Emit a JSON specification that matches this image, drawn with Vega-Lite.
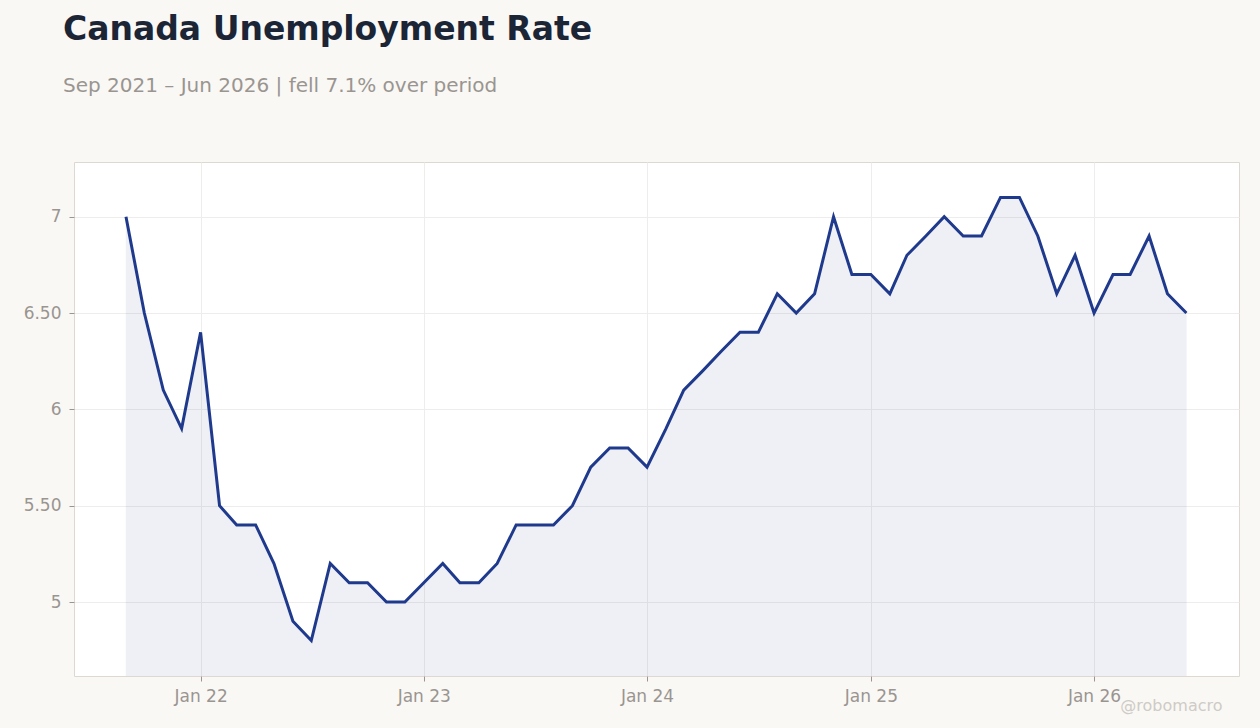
{
  "$schema": "https://vega.github.io/schema/vega-lite/v6.json",
  "description": "Canada unemployment rate, monthly, Sep 2021 to Jun 2026.",
  "width": 1165,
  "height": 514,
  "autosize": "none",
  "padding": {"left": 74, "top": 162, "right": 21, "bottom": 52},
  "background": "#f9f8f5",
  "title": {
    "text": "Canada Unemployment Rate",
    "subtitle": "Sep 2021 – Jun 2026 | fell 7.1% over period",
    "anchor": "start",
    "frame": "group",
    "dx": -11,
    "offset": 66,
    "font": "DejaVu Sans",
    "fontSize": 33,
    "fontWeight": "bold",
    "color": "#1b2535",
    "subtitleFont": "DejaVu Sans",
    "subtitleFontSize": 20,
    "subtitleColor": "#9a9590",
    "subtitlePadding": 29
  },
  "data": {
    "values": [
      {"date": "2021-09-01", "rate": 7.0},
      {"date": "2021-10-01", "rate": 6.5},
      {"date": "2021-11-01", "rate": 6.1},
      {"date": "2021-12-01", "rate": 5.9},
      {"date": "2022-01-01", "rate": 6.4},
      {"date": "2022-02-01", "rate": 5.5},
      {"date": "2022-03-01", "rate": 5.4},
      {"date": "2022-04-01", "rate": 5.4},
      {"date": "2022-05-01", "rate": 5.2},
      {"date": "2022-06-01", "rate": 4.9},
      {"date": "2022-07-01", "rate": 4.8},
      {"date": "2022-08-01", "rate": 5.2},
      {"date": "2022-09-01", "rate": 5.1},
      {"date": "2022-10-01", "rate": 5.1},
      {"date": "2022-11-01", "rate": 5.0},
      {"date": "2022-12-01", "rate": 5.0},
      {"date": "2023-01-01", "rate": 5.1},
      {"date": "2023-02-01", "rate": 5.2},
      {"date": "2023-03-01", "rate": 5.1},
      {"date": "2023-04-01", "rate": 5.1},
      {"date": "2023-05-01", "rate": 5.2},
      {"date": "2023-06-01", "rate": 5.4},
      {"date": "2023-07-01", "rate": 5.4},
      {"date": "2023-08-01", "rate": 5.4},
      {"date": "2023-09-01", "rate": 5.5},
      {"date": "2023-10-01", "rate": 5.7},
      {"date": "2023-11-01", "rate": 5.8},
      {"date": "2023-12-01", "rate": 5.8},
      {"date": "2024-01-01", "rate": 5.7},
      {"date": "2024-02-01", "rate": 5.9},
      {"date": "2024-03-01", "rate": 6.1},
      {"date": "2024-04-01", "rate": 6.2},
      {"date": "2024-05-01", "rate": 6.3},
      {"date": "2024-06-01", "rate": 6.4},
      {"date": "2024-07-01", "rate": 6.4},
      {"date": "2024-08-01", "rate": 6.6},
      {"date": "2024-09-01", "rate": 6.5},
      {"date": "2024-10-01", "rate": 6.6},
      {"date": "2024-11-01", "rate": 7.0},
      {"date": "2024-12-01", "rate": 6.7},
      {"date": "2025-01-01", "rate": 6.7},
      {"date": "2025-02-01", "rate": 6.6},
      {"date": "2025-03-01", "rate": 6.8},
      {"date": "2025-04-01", "rate": 6.9},
      {"date": "2025-05-01", "rate": 7.0},
      {"date": "2025-06-01", "rate": 6.9},
      {"date": "2025-07-01", "rate": 6.9},
      {"date": "2025-08-01", "rate": 7.1},
      {"date": "2025-09-01", "rate": 7.1},
      {"date": "2025-10-01", "rate": 6.9},
      {"date": "2025-11-01", "rate": 6.6},
      {"date": "2025-12-01", "rate": 6.8},
      {"date": "2026-01-01", "rate": 6.5},
      {"date": "2026-02-01", "rate": 6.7},
      {"date": "2026-03-01", "rate": 6.7},
      {"date": "2026-04-01", "rate": 6.9},
      {"date": "2026-05-01", "rate": 6.6},
      {"date": "2026-06-01", "rate": 6.5}
    ]
  },
  "encoding": {
    "x": {
      "field": "date",
      "type": "temporal",
      "scale": {"domain": [{"year": 2021, "month": 6, "date": 8}, {"year": 2026, "month": 8, "date": 26}]},
      "axis": {
        "values": [{"year": 2022, "month": 1, "date": 1}, {"year": 2023, "month": 1, "date": 1}, {"year": 2024, "month": 1, "date": 1}, {"year": 2025, "month": 1, "date": 1}, {"year": 2026, "month": 1, "date": 1}],
        "format": "%b %y",
        "labelPadding": 7,
        "title": "@robomacro",
        "titleAnchor": "end",
        "titleAlign": "right",
        "titleX": 1148,
        "titleY": 29,
        "titleBaseline": "middle",
        "titleFont": "DejaVu Sans",
        "titleFontSize": 16,
        "titleFontWeight": "normal",
        "titleColor": "#cfcbc5"
      }
    },
    "y": {
      "field": "rate",
      "type": "quantitative",
      "scale": {"domain": [4.616, 7.284], "zero": false, "nice": false},
      "axis": {
        "values": [5, 5.5, 6, 6.5, 7],
        "labelExpr": "datum.value % 1 == 0 ? format(datum.value, 'd') : format(datum.value, '.2f')",
        "labelPadding": 8,
        "title": null
      }
    }
  },
  "layer": [
    {
      "mark": {"type": "area", "clip": true, "color": "#1f3a8c", "opacity": 0.07, "stroke": "#1f3a8c", "strokeOpacity": 0.6, "strokeWidth": 0.5}
    },
    {
      "mark": {"type": "line", "color": "#1f3a8c", "strokeWidth": 3}
    }
  ],
  "config": {
    "view": {"fill": "#ffffff", "stroke": "#ddd8d0", "strokeWidth": 1},
    "axis": {
      "labelFont": "DejaVu Sans",
      "labelFontSize": 17,
      "labelColor": "#9a9590",
      "gridColor": "#eeedeb",
      "gridWidth": 1,
      "domain": false,
      "tickColor": "#9a9590",
      "tickSize": 5
    }
  }
}
